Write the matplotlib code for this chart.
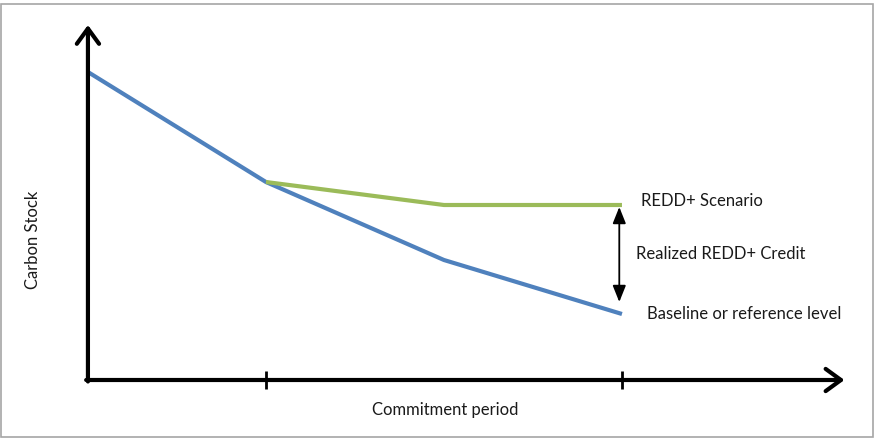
import matplotlib.pyplot as plt
from matplotlib.patches import Rectangle

# datos (unidades arbitrarias)
periodos = [0, 1, 2, 3]
linea_base = [30.8, 19.8, 12.0, 6.6]
periodos_redd = [1, 2, 3]
escenario_redd = [19.8, 17.5, 17.5]
marcas_x = [1, 3]

azul = '#4f81bd'
verde = '#9bbb59'

plt.rcParams['font.family'] = ['Lato', 'DejaVu Sans']

fig = plt.figure(figsize=(8.79, 4.40), dpi=100)
ax = fig.add_axes([0, 0, 1, 1])
ax.set_xlim(-0.494, 4.444)
ax.set_ylim(-6.0, 38.0)
ax.axis('off')

# marco gris
fig.patches.append(Rectangle((1 / 879, 3 / 440), 872 / 879, 433 / 440, transform=fig.transFigure,
                             fill=False, edgecolor='#a6a6a6', lw=1.2))

# ejes con flechas
flecha = dict(arrowstyle='->, head_length=0.55, head_width=0.4', color='black', lw=3,
              mutation_scale=20, shrinkA=0, shrinkB=0)
ax.annotate('', xy=(0, 35.5), xytext=(0, -0.15), arrowprops=flecha)
ax.annotate('', xy=(4.25, 0), xytext=(-0.01, 0), arrowprops=flecha)

# marcas del periodo
for m in marcas_x:
    ax.plot([m, m], [-0.9, 0.9], color='black', lw=2, solid_capstyle='butt')

# lineas
ax.plot(periodos, linea_base, color=azul, lw=3, solid_capstyle='butt')
ax.plot(periodos_redd, escenario_redd, color=verde, lw=3, solid_capstyle='butt')

# flecha doble del credito
ax.annotate('', xy=(2.985, escenario_redd[-1] - 0.2), xytext=(2.985, linea_base[-1] + 1.2),
            arrowprops=dict(arrowstyle='<|-|>, head_length=0.5, head_width=0.2', color='black',
                            lw=1.3, mutation_scale=20, shrinkA=0, shrinkB=0))

# textos
fs = 12
ax.text(3.107, 17.9, 'REDD+ Scenario', fontsize=fs, va='center', ha='left', color='#1a1a1a')
ax.text(3.079, 12.6, 'Realized REDD+ Credit', fontsize=fs, va='center', ha='left', color='#1a1a1a')
ax.text(3.140, 6.6, 'Baseline or reference level', fontsize=fs, va='center', ha='left', color='#1a1a1a')
ax.text(2.006, -3.0, 'Commitment period', fontsize=fs, va='center', ha='center', color='#1a1a1a')
ax.text(-0.309, 14.0, 'Carbon Stock', fontsize=fs, va='center', ha='center', rotation=90, color='#1a1a1a')

fig.savefig('out.png', dpi=100)
